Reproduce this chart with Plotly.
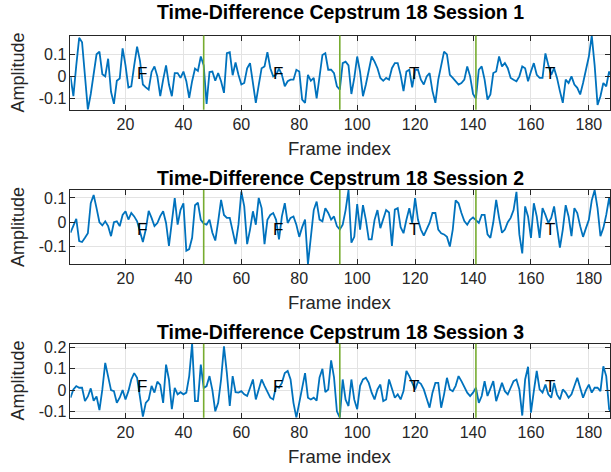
import plotly.graph_objects as go

frames = list(range(1, 189))

session1 = [
    0.0, -0.09, 0.05, 0.175, 0.155, 0.0, -0.151, -0.08, 0.0, 0.1,
    0.112, 0.01, 0.0, 0.08, -0.07, -0.125, -0.02, -0.01, 0.127, 0.05,
    -0.05, -0.045, 0.05, 0.135, 0.07, -0.037, -0.05, -0.06, 0.02, 0.045,
    0.0, -0.09, -0.015, 0.05, -0.037, -0.09, 0.015, 0.015, -0.007, 0.022,
    -0.022, -0.097, -0.022, 0.035, 0.025, 0.09, 0.05, -0.125, 0.02, 0.022,
    -0.02, 0.015, -0.022, -0.075, 0.105, 0.11, 0.005, 0.063, 0.007, -0.037,
    -0.03, 0.037, 0.06, -0.02, -0.12, -0.04, 0.037, 0.045, 0.11, 0.037,
    0.0, 0.007, 0.035, 0.007, -0.045, -0.022, -0.015, -0.015, 0.03, 0.022,
    -0.105, -0.12, 0.007, -0.02, -0.007, -0.1, -0.007, 0.097, 0.105, 0.03,
    0.03, 0.015, -0.045, -0.06, 0.06, 0.067, 0.05, -0.08, -0.007, 0.09,
    0.02, -0.09, -0.037, 0.022, 0.09, 0.067, 0.037, -0.007, -0.02, -0.007,
    -0.015, 0.037, 0.06, 0.06, 0.007, -0.067, 0.022, 0.03, -0.05, 0.03,
    0.03, -0.015, -0.037, 0.0, 0.015, -0.067, -0.12, -0.015, 0.052, 0.112,
    0.1, 0.007, -0.007, -0.022, -0.037, -0.03, -0.015, 0.045, 0.0, -0.08,
    -0.1, 0.03, 0.045, -0.015, -0.105, -0.082, 0.015, 0.022, 0.09, 0.045,
    0.06, 0.037, -0.007, -0.015, -0.022, 0.0, 0.045, 0.037, -0.022, 0.022,
    0.06, 0.007, -0.007, -0.007, 0.104, 0.052, 0.007, 0.037, -0.007, -0.067,
    -0.12, -0.015, -0.03, 0.0, -0.037, -0.052, -0.082, -0.03, 0.037, 0.09,
    0.185, 0.05, -0.13, -0.09, -0.03, -0.045, 0.022, -0.007,
]

session2 = [
    -0.043, -0.016, 0.014, -0.077, -0.081, -0.064, -0.045, 0.078, 0.112, 0.058,
    0.0, -0.013, 0.004, -0.016, -0.057, 0.0, 0.004, -0.016, 0.03, 0.045,
    0.011, 0.038, 0.024, 0.004, -0.043, -0.081, -0.03, 0.047, 0.018, -0.016,
    -0.003, 0.025, 0.045, -0.003, -0.097, 0.011, 0.099, -0.01, 0.051, 0.078,
    -0.117, -0.11, -0.064, 0.07, 0.08, 0.01, -0.005, -0.01, 0.011, -0.043,
    -0.075, 0.004, 0.092, 0.03, 0.018, 0.018, -0.03, -0.09, -0.01, 0.126,
    0.065, -0.09, -0.03, 0.045, -0.01, 0.1, 0.058, -0.09, 0.01, 0.03,
    0.038, 0.01, -0.07, 0.024, 0.078, -0.003, 0.018, 0.024, -0.01, -0.06,
    -0.02, 0.011, -0.172, -0.07, 0.05, 0.085, 0.011, 0.004, 0.058, 0.038,
    0.011, 0.024, -0.016, -0.03, -0.01, 0.05, 0.132, -0.084, -0.06, 0.075,
    -0.03, 0.07, 0.01, -0.07, -0.07, 0.01, 0.05, -0.024, 0.01, 0.05,
    0.04, -0.097, 0.052, 0.058, -0.02, -0.045, 0.01, 0.058, -0.003, 0.099,
    0.01, -0.03, -0.055, -0.03, -0.003, 0.038, 0.038, -0.03, -0.045, -0.05,
    -0.06, -0.1, -0.03, 0.09, 0.078, 0.038, 0.005, -0.01, 0.01, 0.02,
    0.01, -0.003, 0.03, 0.03, -0.05, -0.064, 0.0, 0.092, 0.018, -0.043,
    -0.03, 0.0, 0.018, 0.05, 0.125, -0.05, -0.128, 0.065, 0.024, -0.064,
    0.078, 0.024, -0.064, 0.058, 0.03, -0.003, 0.018, 0.065, -0.02, -0.104,
    -0.03, 0.07, 0.024, -0.057, 0.058, 0.038, -0.016, -0.06, -0.024, 0.01,
    0.09, 0.132, 0.058, -0.057, -0.024, 0.03, 0.1, 0.024,
]

session3 = [
    -0.036, 0.003, 0.019, 0.011, 0.011, -0.052, -0.03, 0.008, -0.05, -0.03,
    -0.094, 0.003, 0.128, 0.06, 0.0, -0.005, -0.06, -0.036, 0.0, -0.044,
    -0.005, 0.05, 0.08, 0.058, -0.028, -0.125, -0.06, -0.045, 0.02, -0.012,
    0.04, 0.025, -0.06, 0.12, 0.05, -0.09, 0.01, -0.02, -0.01, -0.02,
    -0.012, 0.066, 0.219, -0.052, -0.052, 0.12, 0.01, 0.019, 0.066, 0.0,
    -0.1, -0.06, 0.05, 0.206, 0.08, -0.075, 0.066, -0.01, -0.012, -0.005,
    -0.02, -0.028, 0.01, 0.05, -0.044, 0.0, 0.05, 0.02, -0.005, -0.036,
    -0.044, 0.019, 0.011, 0.034, 0.08, 0.09, 0.05, -0.06, -0.13, -0.06,
    0.019, 0.08, -0.036, -0.044, -0.036, -0.05, 0.06, 0.1, -0.01, 0.003,
    0.14, 0.06, -0.1, -0.13, 0.05, -0.045, -0.075, 0.05, -0.045, -0.09,
    0.02, 0.05, 0.058, 0.034, -0.012, -0.044, 0.003, 0.026, -0.052, -0.044,
    0.05, 0.01, -0.036, -0.02, -0.044, -0.005, 0.09, 0.066, 0.034, 0.003,
    0.04, 0.03, 0.003, -0.036, -0.083, -0.012, 0.034, 0.034, -0.083, -0.02,
    0.058, 0.003, -0.005, 0.02, 0.066, 0.042, 0.011, -0.012, -0.028, -0.012,
    0.011, -0.06, -0.028, 0.042, -0.028, 0.003, 0.042, -0.052, -0.012, 0.034,
    -0.005, -0.02, 0.011, 0.042, 0.05, 0.003, -0.12, 0.05, 0.11, -0.106,
    -0.005, 0.09, 0.003, -0.012, 0.026, -0.02, -0.036, 0.034, -0.02, -0.044,
    0.003, -0.012, -0.036, -0.02, 0.019, 0.058, 0.011, -0.036, 0.0, 0.026,
    -0.012, 0.011, 0.011, -0.005, 0.112, 0.066, -0.09, -0.11,
]

sessions = [session1, session2, session3]
titles = ["Time-Difference Cepstrum 18 Session 1",
          "Time-Difference Cepstrum 18 Session 2",
          "Time-Difference Cepstrum 18 Session 3"]
boundaries = [47, 94, 141]
label_x = [24, 71, 118, 165]
label_text = ["F", "F", "T", "T"]
label_y = [0.012, -0.028, 0.018]
x_ticks = [20, 40, 60, 80, 100, 120, 140, 160, 180]
y_ticks = [[-0.1, 0, 0.1], [-0.1, 0, 0.1], [-0.1, 0, 0.1, 0.2]]
y_ranges = [[-0.151, 0.185], [-0.172, 0.132], [-0.13, 0.219]]

W, H = 611, 472
boxes = [(32, 107), (188.5, 263.5), (344, 419)]
x_left = 70.6
title_y = [8, 176, 332]
xlabel_y = [146, 302, 458]

FONT = "Liberation Sans, Arial, Helvetica, sans-serif"
BLUE = "#0072BD"
GREEN = "#77AC30"
AX = "#262626"
GRID = "#e3e3e3"

fig = go.Figure()
layout = dict(
    width=W, height=H,
    margin=dict(l=0, r=0, t=0, b=0),
    paper_bgcolor="white", plot_bgcolor="white",
    showlegend=False,
    font=dict(family=FONT, size=16, color=AX),
)
annotations = []
shapes = []

for i in range(3):
    n = "" if i == 0 else str(i + 1)
    xa = "x" + n
    ya = "y" + n
    fig.add_trace(go.Scatter(x=frames, y=sessions[i], mode="lines",
                             line=dict(color=BLUE, width=1.8),
                             xaxis=xa, yaxis=ya, hoverinfo="skip"))
    top, bot = boxes[i]
    layout["xaxis" + n] = dict(
        domain=[x_left / W, 1.0], range=[1, 187.3], anchor=ya,
        tickvals=x_ticks, ticks="inside", ticklen=5, tickcolor=AX,
        showline=True, linecolor=AX, linewidth=1, mirror="ticks",
        showgrid=True, gridcolor=GRID, gridwidth=1, zeroline=False,
        tickfont=dict(size=16, color=AX, family=FONT),
    )
    layout["yaxis" + n] = dict(
        domain=[1 - bot / H, 1 - top / H], range=y_ranges[i], anchor=xa,
        tickvals=y_ticks[i], ticktext=[("%g" % v) for v in y_ticks[i]],
        ticks="inside", ticklen=5, tickcolor=AX,
        showline=True, linecolor=AX, linewidth=1, mirror="ticks",
        showgrid=True, gridcolor=GRID, gridwidth=1, zeroline=False,
        tickfont=dict(size=16, color=AX, family=FONT),
    )
    for b in boundaries:
        shapes.append(dict(type="line", xref=xa, yref=ya + " domain",
                           x0=b, x1=b, y0=0, y1=1,
                           line=dict(color=GREEN, width=1.6), layer="above"))
    for lx, lt in zip(label_x, label_text):
        annotations.append(dict(x=lx, y=label_y[i], xref=xa, yref=ya,
                                text=lt, showarrow=False, xanchor="left",
                                yanchor="middle", xshift=-2,
                                font=dict(size=17, color="black", family=FONT)))
    annotations.append(dict(x=(x_left + W) / 2 / W, y=1 - title_y[i] / H,
                            xref="paper", yref="paper",
                            text="<b>" + titles[i] + "</b>", showarrow=False,
                            xanchor="center", yanchor="middle",
                            font=dict(size=19.5, color="black", family=FONT)))
    annotations.append(dict(x=(x_left + W) / 2 / W, y=1 - xlabel_y[i] / H,
                            xref="paper", yref="paper", text="Frame index",
                            showarrow=False, xanchor="center", yanchor="middle",
                            font=dict(size=18.5, color=AX, family=FONT)))
    annotations.append(dict(x=18 / W, y=1 - (top + bot) / 2 / H,
                            xref="paper", yref="paper", text="Amplitude",
                            showarrow=False, xanchor="center", yanchor="middle",
                            textangle=-90,
                            font=dict(size=18, color=AX, family=FONT)))

layout["annotations"] = annotations
layout["shapes"] = shapes
fig.update_layout(**layout)
fig.write_html("out.html")
